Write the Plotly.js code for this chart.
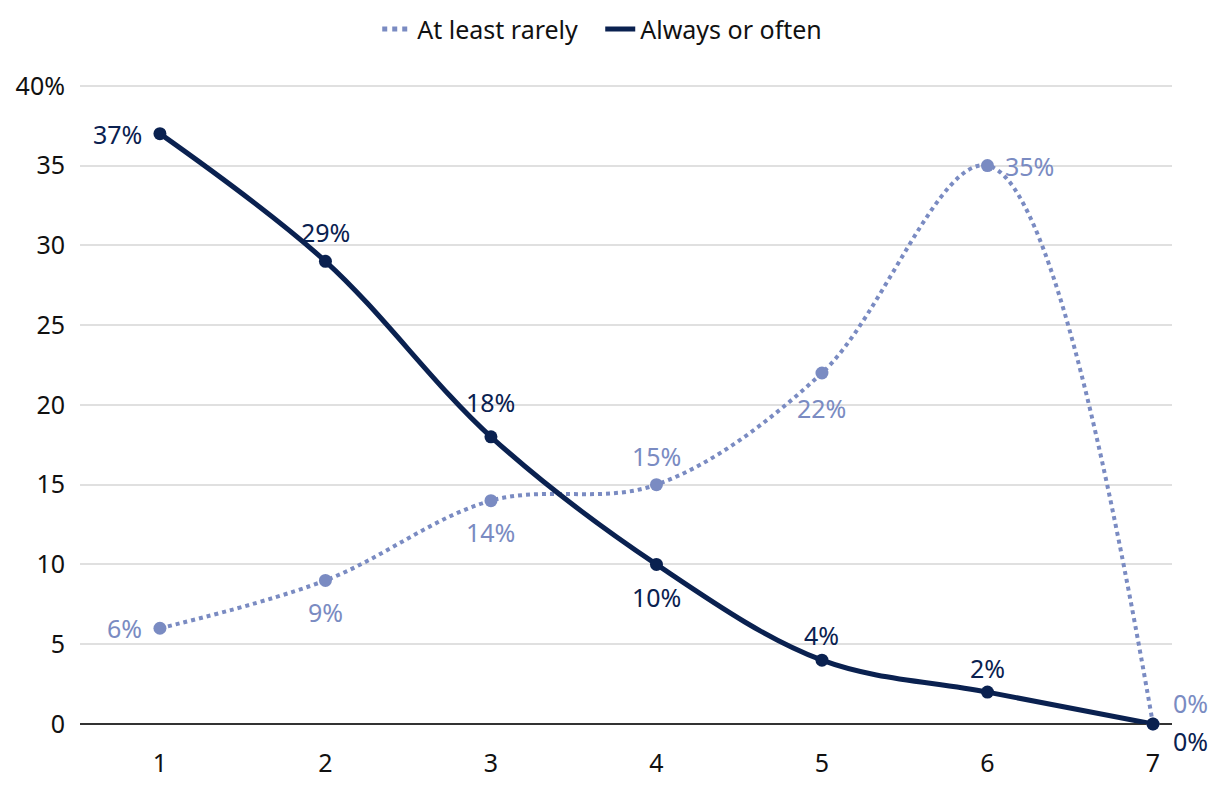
<!DOCTYPE html>
<html><head><meta charset="utf-8">
<script src="https://cdn.plot.ly/plotly-3.0.1.min.js"></script>
<style>html,body{margin:0;padding:0;background:#fff}#c{width:1220px;height:792px}</style>
</head><body><div id="c"></div>
<script>
const categories = [1, 2, 3, 4, 5, 6, 7];
const atLeastRarely = [6, 9, 14, 15, 22, 35, 0];
const alwaysOften = [37, 29, 18, 10, 4, 2, 0];
const yTickVals = [0, 5, 10, 15, 20, 25, 30, 35, 40];
const yTickText = ["0", "5", "10", "15", "20", "25", "30", "35", "40%"];

// label placement (style): [xanchor, xshift, yshift]
const rarelyLabelPos = [["right",-16,0],["center",0,-32],["center",0,-31],["center",0,29],["center",0,-35],["left",16,0],["left",18,21]];
const alwaysLabelPos = [["right",-16,0],["center",0,29],["center",0,35],["center",0,-33],["center",0,25],["center",0,24],["left",18,-17]];

const lightC = "#7a8bc2", darkC = "#0a2150";
const fnt = "'Noto Sans', 'Open Sans', sans-serif";
const FS = 25;

const traces = [
  {x: categories, y: atLeastRarely, name: "At least rarely", type: "scatter", mode: "lines+markers",
   line: {shape: "spline", smoothing: 1, dash: "dot", width: 4, color: lightC},
   marker: {size: 13, color: lightC}, cliponaxis: false, showlegend: false},
  {x: categories, y: alwaysOften, name: "Always or often", type: "scatter", mode: "lines+markers",
   line: {shape: "spline", smoothing: 1, width: 5, color: darkC},
   marker: {size: 13, color: darkC}, cliponaxis: false, showlegend: false},
  {x: [null], y: [null], name: "At least rarely", type: "scatter", mode: "lines",
   line: {dash: "dot", width: 5, color: lightC}},
  {x: [null], y: [null], name: "Always or often", type: "scatter", mode: "lines",
   line: {width: 5, color: darkC}}
];

function labels(xs, ys, pos, color) {
  return xs.map((x, i) => ({
    x: x, y: ys[i], xref: "x", yref: "y", text: ys[i] + "%", showarrow: false,
    xanchor: pos[i][0], yanchor: "middle", xshift: pos[i][1], yshift: pos[i][2],
    font: {size: FS, color: color, family: fnt}
  }));
}

const layout = {
  width: 1220, height: 792,
  margin: {l: 80, r: 48, t: 81, b: 68},
  paper_bgcolor: "#fff", plot_bgcolor: "#fff",
  font: {family: fnt, size: FS, color: "#111"},
  showlegend: true,
  legend: {orientation: "h", x: 0.492, xanchor: "center", xref: "container", yref: "container", y: 0.963, yanchor: "middle",
           font: {size: FS, color: "#111"}, itemwidth: 30, entrywidth: 178, entrywidthmode: "pixels"},
  xaxis: {range: [0.517, 7.115], tickvals: categories, showgrid: false, zeroline: false,
          showline: false, ticks: "", ticklabelstandoff: 22, tickfont: {size: FS, color: "#111"}},
  yaxis: {range: [0, 40.3], tickvals: yTickVals, ticktext: yTickText, showgrid: true, gridcolor: "#e0e0e0", gridwidth: 1.5,
          zeroline: true, zerolinecolor: "#333", zerolinewidth: 1.5, ticks: "", ticklabelstandoff: 14,
          tickfont: {size: FS, color: "#111"}},
  annotations: labels(categories, atLeastRarely, rarelyLabelPos, lightC).concat(labels(categories, alwaysOften, alwaysLabelPos, darkC))
};
Plotly.newPlot("c", traces, layout, {displayModeBar: false});
</script></body></html>
